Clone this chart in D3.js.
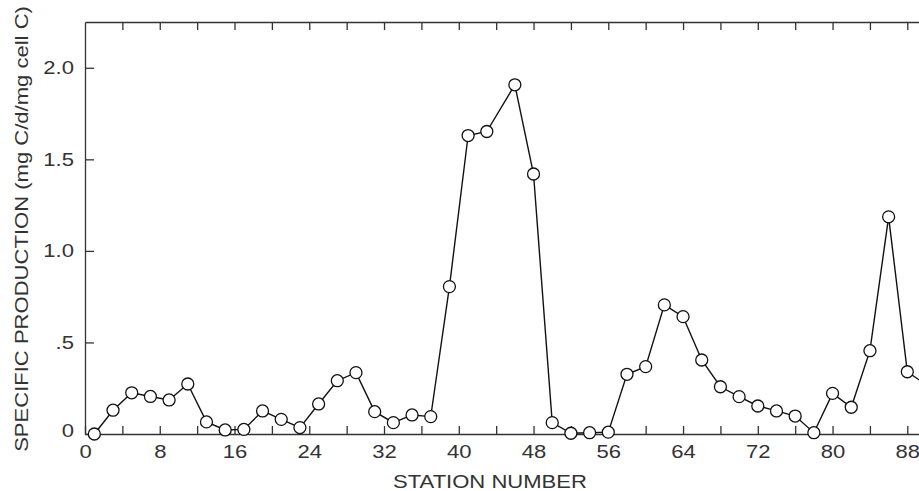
<!DOCTYPE html>
<html>
<head>
<meta charset="utf-8">
<script src="https://cdn.jsdelivr.net/npm/d3@7"></script>
<style>
  body { margin: 0; background: #fff; }
  svg text { font-family: "Liberation Sans", Arial, sans-serif; fill: #333; }
  .ejes path, .ejes line { stroke: #333; stroke-width: 1.3; }
</style>
</head>
<body>
<div id="graf"></div>
<script>
// estaciones (station number) y produccion especifica (mg C/d/mg cell C)
const estaciones = [1, 3, 5, 7, 9, 11, 13, 15, 17, 19, 21, 23, 25, 27, 29, 31, 33, 35, 37,
  39, 41, 43, 46, 48, 50, 52, 54, 56, 58, 60, 62, 64, 66, 68, 70, 72, 74, 76, 78,
  80, 82, 84, 86, 88, 90]
const produccion = [0.0, 0.13, 0.225, 0.205, 0.186, 0.273, 0.066, 0.022, 0.025, 0.126,
  0.08, 0.035, 0.164, 0.291, 0.335, 0.122, 0.062, 0.104, 0.095,
  0.805, 1.63, 1.652, 1.907, 1.42, 0.062, 0.004, 0.007, 0.01, 0.326, 0.368,
  0.705, 0.641, 0.404, 0.258, 0.204, 0.153, 0.126, 0.098, 0.007,
  0.222, 0.146, 0.455, 1.186, 0.34, 0.27]

const ticksX = [0, 4, 8, 12, 16, 20, 24, 28, 32, 36, 40, 44, 48, 52, 56, 60, 64, 68, 72, 76, 80, 84, 88]
const etiquetasX = [0, 8, 16, 24, 32, 40, 48, 56, 64, 72, 80, 88]
const ticksY = [0, 0.5, 1, 1.5, 2]
const etiquetasY = ['0', '.5', '1.0', '1.5', '2.0']

const anchoTotal = 919
const altoTotal = 491

const svg = d3.select('#graf')
  .append('svg')
  .attr('width', anchoTotal)
  .attr('height', altoTotal)

const x = d3.scaleLinear()
  .domain([0, 90])
  .range([85, 926])

const y = d3.scaleLinear()
  .domain([0, 2.25])
  .range([434, 22])

// eje inferior
svg.append('g')
  .attr('class', 'ejes')
  .attr('transform', `translate(0, ${y(0)})`)
  .call(
    d3.axisBottom(x)
      .tickValues(ticksX)
      .tickSize(-8)
      .tickSizeOuter(0)
      .tickPadding(11)
      .tickFormat(d => etiquetasX.includes(d) ? d : '')
  )

// eje superior (solo marcas)
svg.append('g')
  .attr('class', 'ejes')
  .attr('transform', `translate(0, ${y(2.25)})`)
  .call(
    d3.axisTop(x)
      .tickValues(ticksX.filter(d => d > 0))
      .tickSize(-8)
      .tickSizeOuter(0)
      .tickFormat('')
  )

// eje izquierdo
const ejeY = svg.append('g')
  .attr('class', 'ejes')
  .attr('transform', `translate(${x(0)}, 0)`)
  .call(
    d3.axisLeft(y)
      .tickValues(ticksY)
      .tickSize(-9)
      .tickSizeOuter(0)
      .tickPadding(11)
      .tickFormat((d, i) => etiquetasY[i])
  )
// el "0" va un poco por encima del eje en el original
ejeY.selectAll('.tick text').filter(d => d === 0).attr('y', -4)

svg.selectAll('.ejes text')
  .attr('font-size', 19)
  .attr('font-family', '"Liberation Sans", Arial, sans-serif')

// titulos
svg.append('text')
  .attr('x', 490)
  .attr('y', 488)
  .attr('text-anchor', 'middle')
  .attr('font-size', 19)
  .text('STATION NUMBER')

svg.append('text')
  .attr('transform', 'translate(28, 229) rotate(-90)')
  .attr('text-anchor', 'middle')
  .attr('font-size', 19)
  .text('SPECIFIC PRODUCTION (mg C/d/mg cell C)')

// el original tiene letra ensanchada
svg.selectAll('text').each(function () {
  const t = d3.select(this)
  if (!t.text()) return
  const w = this.getComputedTextLength()
  t.attr('textLength', w * 1.16).attr('lengthAdjust', 'spacingAndGlyphs')
})

const datos = estaciones.map((s, i) => ({ s: s, v: produccion[i] }))

const linea = d3.line()
  .x(d => x(d.s))
  .y(d => y(d.v))

svg.append('path')
  .datum(datos)
  .attr('d', linea)
  .attr('fill', 'none')
  .attr('stroke', '#111')
  .attr('stroke-width', 1.4)

svg.selectAll('circle')
  .data(datos)
  .enter()
  .append('circle')
    .attr('cx', d => x(d.s))
    .attr('cy', d => y(d.v))
    .attr('r', 6)
    .attr('fill', '#fff')
    .attr('stroke', '#111')
    .attr('stroke-width', 1.3)
</script>
</body>
</html>
